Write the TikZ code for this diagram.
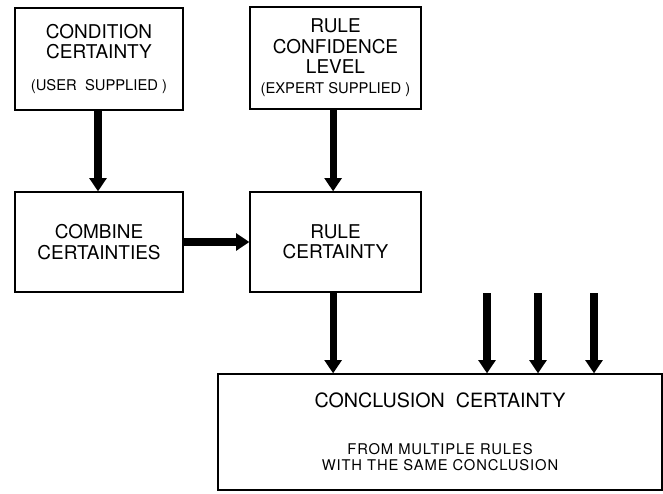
\documentclass[tikz,border=0pt]{standalone}
\usepackage{fontspec}
\setmainfont{TeX Gyre Heros}
\usepackage{tikz}
\usetikzlibrary{arrows.meta, positioning, calc}
\newcommand{\subfont}{\fontsize{10.5}{12}\selectfont}
\newcommand{\notefont}{\fontsize{10.5}{12}\selectfont\addfontfeatures{LetterSpace=6}}

\begin{document}
\begin{tikzpicture}[
    box/.style={draw=black,line width=0.9pt,align=center,
                font=\fontsize{13.5}{14.5}\selectfont,inner sep=0pt},
    arr/.style={-{Triangle[width=12pt,length=9.5pt]},black,line width=5pt}
  ]
    \useasboundingbox (0,0) rectangle (16.575,-12.325);
    \node[box,minimum width=4.2cm,minimum height=2.55cm] (cond) at (2.475,-1.475)
      {CONDITION\\CERTAINTY\\[8.3pt]{\subfont (USER~~SUPPLIED~)}};
    \node[box,minimum width=4.275cm,minimum height=2.55cm] (conf) at (8.3875,-1.45)
      {RULE\\CONFIDENCE\\LEVEL\\[0pt]{\subfont (EXPERT SUPPLIED~)}};
    \node[box,minimum width=4.2cm,minimum height=2.5cm] (comb) at (2.475,-6.05)
      {COMBINE\\CERTAINTIES};
    \node[box,minimum width=4.275cm,minimum height=2.5cm] (rulec) at (8.3875,-6.05)
      {RULE\\CERTAINTY};
    \node[box,minimum width=11.1cm,minimum height=2.9cm,font=\fontsize{14}{15}\selectfont]
      (concl) at (11.0,-10.8)
      {CONCLUSION~~CERTAINTY\\[18pt]{\notefont FROM MULTIPLE RULES}\\[-3.5pt]{\notefont WITH THE SAME CONCLUSION}};
    % other rules feeding the same conclusion
    \coordinate (in1) at (12.175,-7.325);
    \coordinate (in2) at (13.45,-7.325);
    \coordinate (in3) at (14.85,-7.325);
    \draw[arr] ([xshift=-0.025cm]cond.south) -- ([xshift=-0.025cm]comb.north);
    \draw[arr] ([xshift=-0.06cm]conf.south) -- ([xshift=-0.06cm]rulec.north);
    \draw[arr] (comb) -- (rulec);
    \draw[arr] ([xshift=-0.06cm]rulec.south) -- ([xshift=-0.06cm]rulec.south |- concl.north);
    \foreach \n in {in1,in2,in3}
      \draw[arr] (\n) -- (\n |- concl.north);
  \end{tikzpicture}
\end{document}
